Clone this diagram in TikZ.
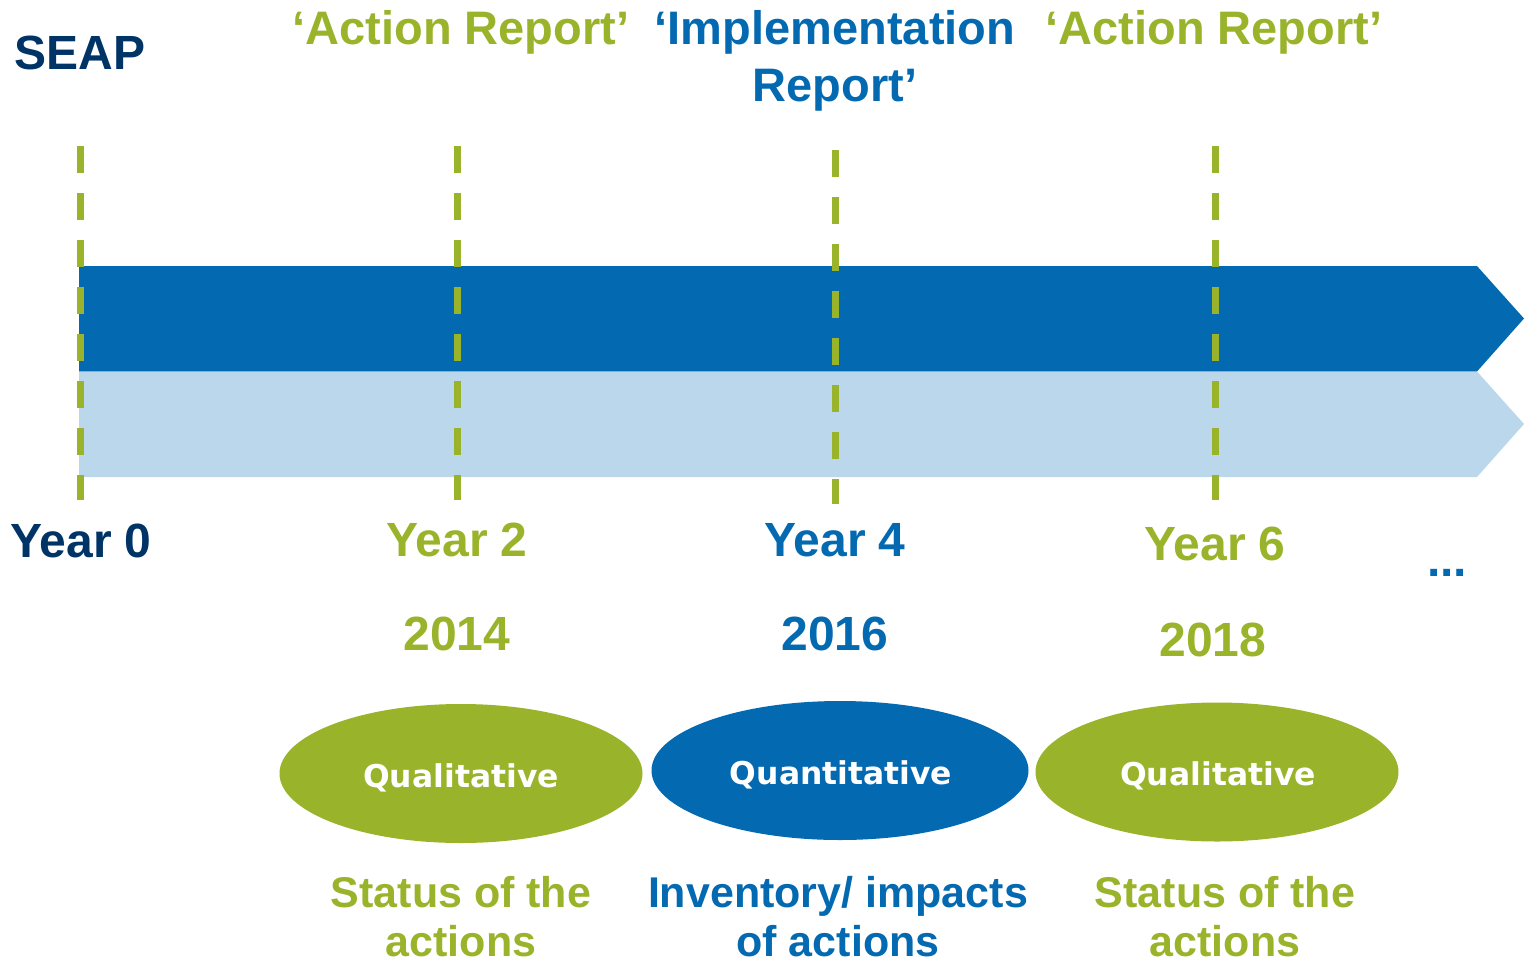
\documentclass[tikz,border=0pt]{standalone}
\usepackage{fontspec}
\setmainfont{Liberation Sans}
\newfontfamily\dejavu{DejaVu Sans}
\usetikzlibrary{shapes.geometric}
\definecolor{sgreen}{RGB}{153,180,43}
\definecolor{sblue}{RGB}{3,105,177}
\definecolor{slight}{RGB}{187,215,235}
\definecolor{snavy}{RGB}{0,51,102}
\tikzset{
  big/.style={font=\fontsize{48}{56}\selectfont\bfseries, anchor=base, inner sep=0pt},
  head/.style={font=\fontsize{47}{57}\selectfont\bfseries, anchor=base, inner sep=0pt},
  desc/.style={font=\fontsize{43}{51}\selectfont\bfseries, anchor=base, inner sep=0pt, text depth=0pt},
  oval/.style={ellipse, inner sep=0pt, minimum width=#1, minimum height=139pt},
  ovtext/.style={font=\dejavu\fontsize{31.4}{36}\selectfont\bfseries, text=white, anchor=base, inner sep=0pt},
  marker/.style={draw=sgreen, line width=7pt, dash pattern=on 27pt off 20pt},
}
\begin{document}
\begin{tikzpicture}[x=1pt,y=-1pt]
\useasboundingbox (0,0) rectangle (1524,962);
% bands
\fill[sblue] (79,266) -- (1477,266) -- (1524,318.5) -- (1477,371.5) -- (79,371.5) -- cycle;
\fill[slight] (79,371.5) -- (1477,371.5) -- (1524,424) -- (1477,477) -- (79,477) -- cycle;
% dashed markers
\coordinate (m0t) at (80,146); \coordinate (m0b) at (80,500);
\coordinate (m2t) at (457,146); \coordinate (m2b) at (457,500);
\coordinate (m4t) at (835,150); \coordinate (m4b) at (835,504);
\coordinate (m6t) at (1215,146); \coordinate (m6b) at (1215,500);
\draw[marker] (m0t) -- (m0b);
\draw[marker] (m2t) -- (m2b);
\draw[marker] (m4t) -- (m4b);
\draw[marker] (m6t) -- (m6b);
% headers
\node[big, text=snavy] (seap) at (80,69) {SEAP};
\node[head, text=sgreen] (ar1) at (461,44) {‘Action Report’};
\node[head, text=sblue] (impl1) at (835,44) {‘Implementation};
\node[head, text=sblue] (impl2) at (835,101) {Report’};
\node[head, text=sgreen] (ar2) at (1214,44) {‘Action Report’};
% years
\node[big, text=snavy] (y0) at (81,557) {Year 0};
\node[big, text=sgreen] (y2) at (457,556) {Year 2};
\node[big, text=sblue] (y4) at (835,556) {Year 4};
\node[big, text=sgreen] (y6) at (1215,560) {Year 6};
\node[big, text=sblue] (dots) at (1447,576) {...};
\node[big, text=sgreen] (d14) at (457,650) {2014};
\node[big, text=sblue] (d16) at (835,650) {2016};
\node[big, text=sgreen] (d18) at (1213,656) {2018};
% ovals
\node[oval=363pt, fill=sgreen] (o1) at (461,773.5) {};
\node[oval=377pt, fill=sblue] (o2) at (840,770.5) {};
\node[oval=363pt, fill=sgreen] (o3) at (1217,772) {};
\node[ovtext] (t1) at (461,787) {Qualitative};
\node[ovtext] (t2) at (841,784) {Quantitative};
\node[ovtext] (t3) at (1218,785) {Qualitative};
% descriptions
\node[desc, text=sgreen] (s1a) at (461,907) {Status of the};
\node[desc, text=sgreen] (s1b) at (461,956) {actions};
\node[desc, text=sblue] (s2a) at (838,907) {Inventory/ impacts};
\node[desc, text=sblue] (s2b) at (838,956) {of actions};
\node[desc, text=sgreen] (s3a) at (1225,907) {Status of the};
\node[desc, text=sgreen] (s3b) at (1225,956) {actions};
\end{tikzpicture}
\end{document}
